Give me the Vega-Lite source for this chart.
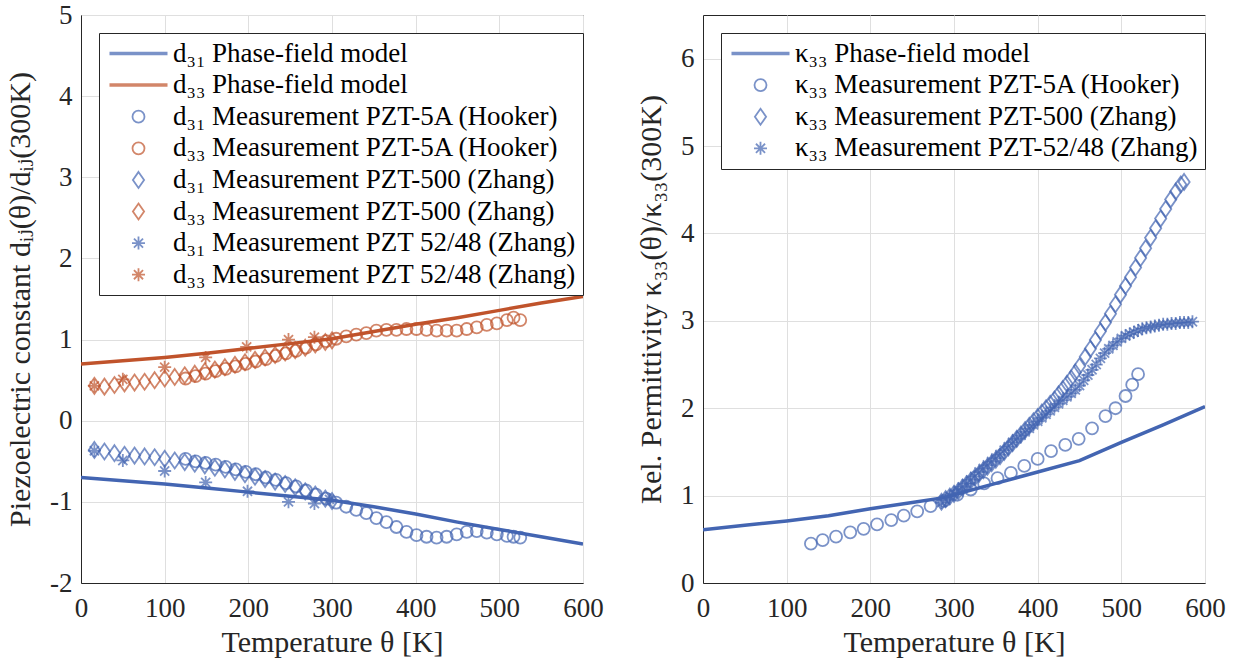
{
  "$schema": "https://vega.github.io/schema/vega-lite/v6.json",
  "background": "white",
  "padding": {"left": 5, "top": 0, "right": 5, "bottom": 2},
  "spacing": 32,
  "resolve": {"scale": {"color": "independent", "shape": "independent", "size": "independent", "strokeWidth": "independent"}, "legend": {"color": "independent", "shape": "independent", "size": "independent", "strokeWidth": "independent"}},
  "config": {
    "font": "Liberation Serif, DejaVu Serif, serif",
    "view": {"stroke": "#262626", "strokeWidth": 1},
    "axis": {"labelFont": "Liberation Serif, DejaVu Serif, serif", "titleFont": "Liberation Serif, DejaVu Serif, serif", "labelFontSize": 27, "titleFontSize": 30, "labelColor": "#262626", "titleColor": "#262626", "titleFontWeight": "normal", "domainColor": "#262626", "gridColor": "#dfdfdf", "ticks": false, "labelPadding": 9, "titlePadding": 14, "labelFlush": false, "labelOverlap": false},
    "axisX": {"labelPadding": 12, "titlePadding": 6},
    "legend": {"labelFont": "Liberation Serif, DejaVu Serif, serif", "labelFontSize": 27, "labelColor": "#000000", "strokeColor": "#262626", "fillColor": "white", "padding": 7, "rowPadding": 3.6, "labelOffset": 21, "symbolOffset": 19, "orient": "top-left", "offset": 18, "labelLimit": 700, "cornerRadius": 0}
  },
  "datasets": {
    "leftLines": [
      {"s": "d₃₁ Phase-field model", "T": 0, "v": -0.70}, {"s": "d₃₁ Phase-field model", "T": 50, "v": -0.74}, {"s": "d₃₁ Phase-field model", "T": 100, "v": -0.78}, {"s": "d₃₁ Phase-field model", "T": 150, "v": -0.83}, {"s": "d₃₁ Phase-field model", "T": 200, "v": -0.88}, {"s": "d₃₁ Phase-field model", "T": 250, "v": -0.93}, {"s": "d₃₁ Phase-field model", "T": 300, "v": -0.98}, {"s": "d₃₁ Phase-field model", "T": 350, "v": -1.06}, {"s": "d₃₁ Phase-field model", "T": 400, "v": -1.15}, {"s": "d₃₁ Phase-field model", "T": 450, "v": -1.25}, {"s": "d₃₁ Phase-field model", "T": 500, "v": -1.34}, {"s": "d₃₁ Phase-field model", "T": 550, "v": -1.43}, {"s": "d₃₁ Phase-field model", "T": 600, "v": -1.52},
      {"s": "d₃₃ Phase-field model", "T": 0, "v": 0.70}, {"s": "d₃₃ Phase-field model", "T": 50, "v": 0.74}, {"s": "d₃₃ Phase-field model", "T": 100, "v": 0.78}, {"s": "d₃₃ Phase-field model", "T": 150, "v": 0.83}, {"s": "d₃₃ Phase-field model", "T": 200, "v": 0.89}, {"s": "d₃₃ Phase-field model", "T": 250, "v": 0.95}, {"s": "d₃₃ Phase-field model", "T": 300, "v": 1.01}, {"s": "d₃₃ Phase-field model", "T": 350, "v": 1.10}, {"s": "d₃₃ Phase-field model", "T": 400, "v": 1.19}, {"s": "d₃₃ Phase-field model", "T": 450, "v": 1.27}, {"s": "d₃₃ Phase-field model", "T": 500, "v": 1.36}, {"s": "d₃₃ Phase-field model", "T": 550, "v": 1.45}, {"s": "d₃₃ Phase-field model", "T": 600, "v": 1.53}
    ],
    "leftPts": [
      {"s": "d₃₁ Measurement PZT-5A (Hooker)", "T": 125, "v": -0.47}, {"s": "d₃₁ Measurement PZT-5A (Hooker)", "T": 137, "v": -0.50}, {"s": "d₃₁ Measurement PZT-5A (Hooker)", "T": 149, "v": -0.52}, {"s": "d₃₁ Measurement PZT-5A (Hooker)", "T": 161, "v": -0.54}, {"s": "d₃₁ Measurement PZT-5A (Hooker)", "T": 173, "v": -0.57}, {"s": "d₃₁ Measurement PZT-5A (Hooker)", "T": 185, "v": -0.60}, {"s": "d₃₁ Measurement PZT-5A (Hooker)", "T": 197, "v": -0.63}, {"s": "d₃₁ Measurement PZT-5A (Hooker)", "T": 209, "v": -0.66}, {"s": "d₃₁ Measurement PZT-5A (Hooker)", "T": 221, "v": -0.70}, {"s": "d₃₁ Measurement PZT-5A (Hooker)", "T": 233, "v": -0.73}, {"s": "d₃₁ Measurement PZT-5A (Hooker)", "T": 245, "v": -0.77}, {"s": "d₃₁ Measurement PZT-5A (Hooker)", "T": 257, "v": -0.81}, {"s": "d₃₁ Measurement PZT-5A (Hooker)", "T": 269, "v": -0.86}, {"s": "d₃₁ Measurement PZT-5A (Hooker)", "T": 281, "v": -0.91}, {"s": "d₃₁ Measurement PZT-5A (Hooker)", "T": 293, "v": -0.96}, {"s": "d₃₁ Measurement PZT-5A (Hooker)", "T": 305, "v": -1.01}, {"s": "d₃₁ Measurement PZT-5A (Hooker)", "T": 317, "v": -1.06}, {"s": "d₃₁ Measurement PZT-5A (Hooker)", "T": 329, "v": -1.10}, {"s": "d₃₁ Measurement PZT-5A (Hooker)", "T": 341, "v": -1.14}, {"s": "d₃₁ Measurement PZT-5A (Hooker)", "T": 353, "v": -1.20}, {"s": "d₃₁ Measurement PZT-5A (Hooker)", "T": 365, "v": -1.25}, {"s": "d₃₁ Measurement PZT-5A (Hooker)", "T": 377, "v": -1.31}, {"s": "d₃₁ Measurement PZT-5A (Hooker)", "T": 389, "v": -1.37}, {"s": "d₃₁ Measurement PZT-5A (Hooker)", "T": 401, "v": -1.41}, {"s": "d₃₁ Measurement PZT-5A (Hooker)", "T": 413, "v": -1.43}, {"s": "d₃₁ Measurement PZT-5A (Hooker)", "T": 425, "v": -1.44}, {"s": "d₃₁ Measurement PZT-5A (Hooker)", "T": 437, "v": -1.43}, {"s": "d₃₁ Measurement PZT-5A (Hooker)", "T": 449, "v": -1.40}, {"s": "d₃₁ Measurement PZT-5A (Hooker)", "T": 461, "v": -1.37}, {"s": "d₃₁ Measurement PZT-5A (Hooker)", "T": 473, "v": -1.36}, {"s": "d₃₁ Measurement PZT-5A (Hooker)", "T": 485, "v": -1.38}, {"s": "d₃₁ Measurement PZT-5A (Hooker)", "T": 497, "v": -1.40}, {"s": "d₃₁ Measurement PZT-5A (Hooker)", "T": 509, "v": -1.42}, {"s": "d₃₁ Measurement PZT-5A (Hooker)", "T": 517, "v": -1.43}, {"s": "d₃₁ Measurement PZT-5A (Hooker)", "T": 525, "v": -1.44},
      {"s": "d₃₃ Measurement PZT-5A (Hooker)", "T": 125, "v": 0.52}, {"s": "d₃₃ Measurement PZT-5A (Hooker)", "T": 137, "v": 0.55}, {"s": "d₃₃ Measurement PZT-5A (Hooker)", "T": 149, "v": 0.58}, {"s": "d₃₃ Measurement PZT-5A (Hooker)", "T": 161, "v": 0.61}, {"s": "d₃₃ Measurement PZT-5A (Hooker)", "T": 173, "v": 0.64}, {"s": "d₃₃ Measurement PZT-5A (Hooker)", "T": 185, "v": 0.67}, {"s": "d₃₃ Measurement PZT-5A (Hooker)", "T": 197, "v": 0.70}, {"s": "d₃₃ Measurement PZT-5A (Hooker)", "T": 209, "v": 0.73}, {"s": "d₃₃ Measurement PZT-5A (Hooker)", "T": 221, "v": 0.76}, {"s": "d₃₃ Measurement PZT-5A (Hooker)", "T": 233, "v": 0.80}, {"s": "d₃₃ Measurement PZT-5A (Hooker)", "T": 245, "v": 0.83}, {"s": "d₃₃ Measurement PZT-5A (Hooker)", "T": 257, "v": 0.86}, {"s": "d₃₃ Measurement PZT-5A (Hooker)", "T": 269, "v": 0.90}, {"s": "d₃₃ Measurement PZT-5A (Hooker)", "T": 281, "v": 0.94}, {"s": "d₃₃ Measurement PZT-5A (Hooker)", "T": 293, "v": 0.98}, {"s": "d₃₃ Measurement PZT-5A (Hooker)", "T": 305, "v": 1.01}, {"s": "d₃₃ Measurement PZT-5A (Hooker)", "T": 317, "v": 1.04}, {"s": "d₃₃ Measurement PZT-5A (Hooker)", "T": 329, "v": 1.06}, {"s": "d₃₃ Measurement PZT-5A (Hooker)", "T": 341, "v": 1.08}, {"s": "d₃₃ Measurement PZT-5A (Hooker)", "T": 353, "v": 1.11}, {"s": "d₃₃ Measurement PZT-5A (Hooker)", "T": 365, "v": 1.12}, {"s": "d₃₃ Measurement PZT-5A (Hooker)", "T": 377, "v": 1.12}, {"s": "d₃₃ Measurement PZT-5A (Hooker)", "T": 389, "v": 1.13}, {"s": "d₃₃ Measurement PZT-5A (Hooker)", "T": 401, "v": 1.13}, {"s": "d₃₃ Measurement PZT-5A (Hooker)", "T": 413, "v": 1.12}, {"s": "d₃₃ Measurement PZT-5A (Hooker)", "T": 425, "v": 1.11}, {"s": "d₃₃ Measurement PZT-5A (Hooker)", "T": 437, "v": 1.11}, {"s": "d₃₃ Measurement PZT-5A (Hooker)", "T": 449, "v": 1.11}, {"s": "d₃₃ Measurement PZT-5A (Hooker)", "T": 461, "v": 1.13}, {"s": "d₃₃ Measurement PZT-5A (Hooker)", "T": 473, "v": 1.15}, {"s": "d₃₃ Measurement PZT-5A (Hooker)", "T": 485, "v": 1.18}, {"s": "d₃₃ Measurement PZT-5A (Hooker)", "T": 497, "v": 1.20}, {"s": "d₃₃ Measurement PZT-5A (Hooker)", "T": 509, "v": 1.24}, {"s": "d₃₃ Measurement PZT-5A (Hooker)", "T": 517, "v": 1.27}, {"s": "d₃₃ Measurement PZT-5A (Hooker)", "T": 525, "v": 1.24},
      {"s": "d₃₁ Measurement PZT-500 (Zhang)", "T": 16, "v": -0.36}, {"s": "d₃₁ Measurement PZT-500 (Zhang)", "T": 28, "v": -0.38}, {"s": "d₃₁ Measurement PZT-500 (Zhang)", "T": 40, "v": -0.40}, {"s": "d₃₁ Measurement PZT-500 (Zhang)", "T": 52, "v": -0.42}, {"s": "d₃₁ Measurement PZT-500 (Zhang)", "T": 64, "v": -0.43}, {"s": "d₃₁ Measurement PZT-500 (Zhang)", "T": 76, "v": -0.44}, {"s": "d₃₁ Measurement PZT-500 (Zhang)", "T": 88, "v": -0.45}, {"s": "d₃₁ Measurement PZT-500 (Zhang)", "T": 100, "v": -0.47}, {"s": "d₃₁ Measurement PZT-500 (Zhang)", "T": 112, "v": -0.49}, {"s": "d₃₁ Measurement PZT-500 (Zhang)", "T": 124, "v": -0.51}, {"s": "d₃₁ Measurement PZT-500 (Zhang)", "T": 136, "v": -0.53}, {"s": "d₃₁ Measurement PZT-500 (Zhang)", "T": 148, "v": -0.55}, {"s": "d₃₁ Measurement PZT-500 (Zhang)", "T": 160, "v": -0.58}, {"s": "d₃₁ Measurement PZT-500 (Zhang)", "T": 172, "v": -0.60}, {"s": "d₃₁ Measurement PZT-500 (Zhang)", "T": 184, "v": -0.63}, {"s": "d₃₁ Measurement PZT-500 (Zhang)", "T": 196, "v": -0.66}, {"s": "d₃₁ Measurement PZT-500 (Zhang)", "T": 208, "v": -0.69}, {"s": "d₃₁ Measurement PZT-500 (Zhang)", "T": 220, "v": -0.72}, {"s": "d₃₁ Measurement PZT-500 (Zhang)", "T": 232, "v": -0.75}, {"s": "d₃₁ Measurement PZT-500 (Zhang)", "T": 244, "v": -0.78}, {"s": "d₃₁ Measurement PZT-500 (Zhang)", "T": 256, "v": -0.82}, {"s": "d₃₁ Measurement PZT-500 (Zhang)", "T": 268, "v": -0.87}, {"s": "d₃₁ Measurement PZT-500 (Zhang)", "T": 280, "v": -0.91}, {"s": "d₃₁ Measurement PZT-500 (Zhang)", "T": 292, "v": -0.96}, {"s": "d₃₁ Measurement PZT-500 (Zhang)", "T": 300, "v": -0.99},
      {"s": "d₃₃ Measurement PZT-500 (Zhang)", "T": 16, "v": 0.43}, {"s": "d₃₃ Measurement PZT-500 (Zhang)", "T": 28, "v": 0.42}, {"s": "d₃₃ Measurement PZT-500 (Zhang)", "T": 40, "v": 0.44}, {"s": "d₃₃ Measurement PZT-500 (Zhang)", "T": 52, "v": 0.46}, {"s": "d₃₃ Measurement PZT-500 (Zhang)", "T": 64, "v": 0.47}, {"s": "d₃₃ Measurement PZT-500 (Zhang)", "T": 76, "v": 0.48}, {"s": "d₃₃ Measurement PZT-500 (Zhang)", "T": 88, "v": 0.50}, {"s": "d₃₃ Measurement PZT-500 (Zhang)", "T": 100, "v": 0.52}, {"s": "d₃₃ Measurement PZT-500 (Zhang)", "T": 112, "v": 0.54}, {"s": "d₃₃ Measurement PZT-500 (Zhang)", "T": 124, "v": 0.56}, {"s": "d₃₃ Measurement PZT-500 (Zhang)", "T": 136, "v": 0.58}, {"s": "d₃₃ Measurement PZT-500 (Zhang)", "T": 148, "v": 0.61}, {"s": "d₃₃ Measurement PZT-500 (Zhang)", "T": 160, "v": 0.63}, {"s": "d₃₃ Measurement PZT-500 (Zhang)", "T": 172, "v": 0.66}, {"s": "d₃₃ Measurement PZT-500 (Zhang)", "T": 184, "v": 0.69}, {"s": "d₃₃ Measurement PZT-500 (Zhang)", "T": 196, "v": 0.72}, {"s": "d₃₃ Measurement PZT-500 (Zhang)", "T": 208, "v": 0.75}, {"s": "d₃₃ Measurement PZT-500 (Zhang)", "T": 220, "v": 0.78}, {"s": "d₃₃ Measurement PZT-500 (Zhang)", "T": 232, "v": 0.81}, {"s": "d₃₃ Measurement PZT-500 (Zhang)", "T": 244, "v": 0.84}, {"s": "d₃₃ Measurement PZT-500 (Zhang)", "T": 256, "v": 0.87}, {"s": "d₃₃ Measurement PZT-500 (Zhang)", "T": 268, "v": 0.90}, {"s": "d₃₃ Measurement PZT-500 (Zhang)", "T": 280, "v": 0.94}, {"s": "d₃₃ Measurement PZT-500 (Zhang)", "T": 292, "v": 0.97}, {"s": "d₃₃ Measurement PZT-500 (Zhang)", "T": 300, "v": 0.99},
      {"s": "d₃₁ Measurement PZT 52/48 (Zhang)", "T": 16, "v": -0.37}, {"s": "d₃₁ Measurement PZT 52/48 (Zhang)", "T": 50, "v": -0.49}, {"s": "d₃₁ Measurement PZT 52/48 (Zhang)", "T": 100, "v": -0.62}, {"s": "d₃₁ Measurement PZT 52/48 (Zhang)", "T": 149, "v": -0.76}, {"s": "d₃₁ Measurement PZT 52/48 (Zhang)", "T": 199, "v": -0.87}, {"s": "d₃₁ Measurement PZT 52/48 (Zhang)", "T": 248, "v": -1.00}, {"s": "d₃₁ Measurement PZT 52/48 (Zhang)", "T": 279, "v": -1.02}, {"s": "d₃₁ Measurement PZT 52/48 (Zhang)", "T": 297, "v": -0.97},
      {"s": "d₃₃ Measurement PZT 52/48 (Zhang)", "T": 16, "v": 0.43}, {"s": "d₃₃ Measurement PZT 52/48 (Zhang)", "T": 50, "v": 0.51}, {"s": "d₃₃ Measurement PZT 52/48 (Zhang)", "T": 100, "v": 0.66}, {"s": "d₃₃ Measurement PZT 52/48 (Zhang)", "T": 149, "v": 0.78}, {"s": "d₃₃ Measurement PZT 52/48 (Zhang)", "T": 198, "v": 0.91}, {"s": "d₃₃ Measurement PZT 52/48 (Zhang)", "T": 248, "v": 1.00}, {"s": "d₃₃ Measurement PZT 52/48 (Zhang)", "T": 279, "v": 1.03}
    ],
    "rightLines": [
      {"s": "κ₃₃ Phase-field model", "T": 0, "v": 0.61}, {"s": "κ₃₃ Phase-field model", "T": 50, "v": 0.66}, {"s": "κ₃₃ Phase-field model", "T": 100, "v": 0.71}, {"s": "κ₃₃ Phase-field model", "T": 150, "v": 0.77}, {"s": "κ₃₃ Phase-field model", "T": 200, "v": 0.85}, {"s": "κ₃₃ Phase-field model", "T": 250, "v": 0.92}, {"s": "κ₃₃ Phase-field model", "T": 290, "v": 0.98}, {"s": "κ₃₃ Phase-field model", "T": 300, "v": 1.01}, {"s": "κ₃₃ Phase-field model", "T": 350, "v": 1.14}, {"s": "κ₃₃ Phase-field model", "T": 400, "v": 1.27}, {"s": "κ₃₃ Phase-field model", "T": 450, "v": 1.40}, {"s": "κ₃₃ Phase-field model", "T": 500, "v": 1.61}, {"s": "κ₃₃ Phase-field model", "T": 550, "v": 1.81}, {"s": "κ₃₃ Phase-field model", "T": 600, "v": 2.02}
    ],
    "rightPts": [
      {"s": "κ₃₃ Measurement PZT-5A (Hooker)", "T": 129, "v": 0.45}, {"s": "κ₃₃ Measurement PZT-5A (Hooker)", "T": 143, "v": 0.49}, {"s": "κ₃₃ Measurement PZT-5A (Hooker)", "T": 159, "v": 0.53}, {"s": "κ₃₃ Measurement PZT-5A (Hooker)", "T": 176, "v": 0.58}, {"s": "κ₃₃ Measurement PZT-5A (Hooker)", "T": 192, "v": 0.62}, {"s": "κ₃₃ Measurement PZT-5A (Hooker)", "T": 208, "v": 0.67}, {"s": "κ₃₃ Measurement PZT-5A (Hooker)", "T": 225, "v": 0.72}, {"s": "κ₃₃ Measurement PZT-5A (Hooker)", "T": 240, "v": 0.77}, {"s": "κ₃₃ Measurement PZT-5A (Hooker)", "T": 256, "v": 0.82}, {"s": "κ₃₃ Measurement PZT-5A (Hooker)", "T": 272, "v": 0.88}, {"s": "κ₃₃ Measurement PZT-5A (Hooker)", "T": 288, "v": 0.94}, {"s": "κ₃₃ Measurement PZT-5A (Hooker)", "T": 304, "v": 1.01}, {"s": "κ₃₃ Measurement PZT-5A (Hooker)", "T": 320, "v": 1.07}, {"s": "κ₃₃ Measurement PZT-5A (Hooker)", "T": 336, "v": 1.14}, {"s": "κ₃₃ Measurement PZT-5A (Hooker)", "T": 352, "v": 1.20}, {"s": "κ₃₃ Measurement PZT-5A (Hooker)", "T": 368, "v": 1.26}, {"s": "κ₃₃ Measurement PZT-5A (Hooker)", "T": 384, "v": 1.34}, {"s": "κ₃₃ Measurement PZT-5A (Hooker)", "T": 400, "v": 1.42}, {"s": "κ₃₃ Measurement PZT-5A (Hooker)", "T": 416, "v": 1.51}, {"s": "κ₃₃ Measurement PZT-5A (Hooker)", "T": 433, "v": 1.58}, {"s": "κ₃₃ Measurement PZT-5A (Hooker)", "T": 449, "v": 1.65}, {"s": "κ₃₃ Measurement PZT-5A (Hooker)", "T": 465, "v": 1.77}, {"s": "κ₃₃ Measurement PZT-5A (Hooker)", "T": 481, "v": 1.91}, {"s": "κ₃₃ Measurement PZT-5A (Hooker)", "T": 493, "v": 2.00}, {"s": "κ₃₃ Measurement PZT-5A (Hooker)", "T": 505, "v": 2.14}, {"s": "κ₃₃ Measurement PZT-5A (Hooker)", "T": 513, "v": 2.27}, {"s": "κ₃₃ Measurement PZT-5A (Hooker)", "T": 520, "v": 2.39},
      {"s": "κ₃₃ Measurement PZT-500 (Zhang)", "T": 285, "v": 0.93}, {"s": "κ₃₃ Measurement PZT-500 (Zhang)", "T": 290, "v": 0.96}, {"s": "κ₃₃ Measurement PZT-500 (Zhang)", "T": 295, "v": 0.99}, {"s": "κ₃₃ Measurement PZT-500 (Zhang)", "T": 300, "v": 1.02}, {"s": "κ₃₃ Measurement PZT-500 (Zhang)", "T": 305, "v": 1.05}, {"s": "κ₃₃ Measurement PZT-500 (Zhang)", "T": 310, "v": 1.09}, {"s": "κ₃₃ Measurement PZT-500 (Zhang)", "T": 315, "v": 1.13}, {"s": "κ₃₃ Measurement PZT-500 (Zhang)", "T": 320, "v": 1.17}, {"s": "κ₃₃ Measurement PZT-500 (Zhang)", "T": 325, "v": 1.21}, {"s": "κ₃₃ Measurement PZT-500 (Zhang)", "T": 330, "v": 1.25}, {"s": "κ₃₃ Measurement PZT-500 (Zhang)", "T": 335, "v": 1.29}, {"s": "κ₃₃ Measurement PZT-500 (Zhang)", "T": 340, "v": 1.33}, {"s": "κ₃₃ Measurement PZT-500 (Zhang)", "T": 345, "v": 1.37}, {"s": "κ₃₃ Measurement PZT-500 (Zhang)", "T": 350, "v": 1.41}, {"s": "κ₃₃ Measurement PZT-500 (Zhang)", "T": 355, "v": 1.45}, {"s": "κ₃₃ Measurement PZT-500 (Zhang)", "T": 360, "v": 1.50}, {"s": "κ₃₃ Measurement PZT-500 (Zhang)", "T": 365, "v": 1.55}, {"s": "κ₃₃ Measurement PZT-500 (Zhang)", "T": 370, "v": 1.60}, {"s": "κ₃₃ Measurement PZT-500 (Zhang)", "T": 375, "v": 1.65}, {"s": "κ₃₃ Measurement PZT-500 (Zhang)", "T": 380, "v": 1.70}, {"s": "κ₃₃ Measurement PZT-500 (Zhang)", "T": 385, "v": 1.75}, {"s": "κ₃₃ Measurement PZT-500 (Zhang)", "T": 390, "v": 1.80}, {"s": "κ₃₃ Measurement PZT-500 (Zhang)", "T": 395, "v": 1.85}, {"s": "κ₃₃ Measurement PZT-500 (Zhang)", "T": 400, "v": 1.90}, {"s": "κ₃₃ Measurement PZT-500 (Zhang)", "T": 405, "v": 1.95}, {"s": "κ₃₃ Measurement PZT-500 (Zhang)", "T": 410, "v": 2.00}, {"s": "κ₃₃ Measurement PZT-500 (Zhang)", "T": 415, "v": 2.05}, {"s": "κ₃₃ Measurement PZT-500 (Zhang)", "T": 420, "v": 2.10}, {"s": "κ₃₃ Measurement PZT-500 (Zhang)", "T": 425, "v": 2.16}, {"s": "κ₃₃ Measurement PZT-500 (Zhang)", "T": 430, "v": 2.22}, {"s": "κ₃₃ Measurement PZT-500 (Zhang)", "T": 435, "v": 2.28}, {"s": "κ₃₃ Measurement PZT-500 (Zhang)", "T": 440, "v": 2.34}, {"s": "κ₃₃ Measurement PZT-500 (Zhang)", "T": 445, "v": 2.41}, {"s": "κ₃₃ Measurement PZT-500 (Zhang)", "T": 450, "v": 2.48}, {"s": "κ₃₃ Measurement PZT-500 (Zhang)", "T": 457, "v": 2.59}, {"s": "κ₃₃ Measurement PZT-500 (Zhang)", "T": 463, "v": 2.68}, {"s": "κ₃₃ Measurement PZT-500 (Zhang)", "T": 469, "v": 2.78}, {"s": "κ₃₃ Measurement PZT-500 (Zhang)", "T": 475, "v": 2.88}, {"s": "κ₃₃ Measurement PZT-500 (Zhang)", "T": 481, "v": 2.98}, {"s": "κ₃₃ Measurement PZT-500 (Zhang)", "T": 487, "v": 3.08}, {"s": "κ₃₃ Measurement PZT-500 (Zhang)", "T": 493, "v": 3.19}, {"s": "κ₃₃ Measurement PZT-500 (Zhang)", "T": 499, "v": 3.30}, {"s": "κ₃₃ Measurement PZT-500 (Zhang)", "T": 505, "v": 3.40}, {"s": "κ₃₃ Measurement PZT-500 (Zhang)", "T": 511, "v": 3.50}, {"s": "κ₃₃ Measurement PZT-500 (Zhang)", "T": 517, "v": 3.61}, {"s": "κ₃₃ Measurement PZT-500 (Zhang)", "T": 523, "v": 3.72}, {"s": "κ₃₃ Measurement PZT-500 (Zhang)", "T": 529, "v": 3.83}, {"s": "κ₃₃ Measurement PZT-500 (Zhang)", "T": 535, "v": 3.95}, {"s": "κ₃₃ Measurement PZT-500 (Zhang)", "T": 541, "v": 4.06}, {"s": "κ₃₃ Measurement PZT-500 (Zhang)", "T": 547, "v": 4.17}, {"s": "κ₃₃ Measurement PZT-500 (Zhang)", "T": 553, "v": 4.28}, {"s": "κ₃₃ Measurement PZT-500 (Zhang)", "T": 559, "v": 4.39}, {"s": "κ₃₃ Measurement PZT-500 (Zhang)", "T": 565, "v": 4.48}, {"s": "κ₃₃ Measurement PZT-500 (Zhang)", "T": 571, "v": 4.56}, {"s": "κ₃₃ Measurement PZT-500 (Zhang)", "T": 575, "v": 4.59},
      {"s": "κ₃₃ Measurement PZT-52/48 (Zhang)", "T": 285, "v": 0.92}, {"s": "κ₃₃ Measurement PZT-52/48 (Zhang)", "T": 290, "v": 0.95}, {"s": "κ₃₃ Measurement PZT-52/48 (Zhang)", "T": 295, "v": 0.99}, {"s": "κ₃₃ Measurement PZT-52/48 (Zhang)", "T": 300, "v": 1.02}, {"s": "κ₃₃ Measurement PZT-52/48 (Zhang)", "T": 305, "v": 1.06}, {"s": "κ₃₃ Measurement PZT-52/48 (Zhang)", "T": 310, "v": 1.10}, {"s": "κ₃₃ Measurement PZT-52/48 (Zhang)", "T": 315, "v": 1.14}, {"s": "κ₃₃ Measurement PZT-52/48 (Zhang)", "T": 320, "v": 1.18}, {"s": "κ₃₃ Measurement PZT-52/48 (Zhang)", "T": 325, "v": 1.22}, {"s": "κ₃₃ Measurement PZT-52/48 (Zhang)", "T": 330, "v": 1.27}, {"s": "κ₃₃ Measurement PZT-52/48 (Zhang)", "T": 335, "v": 1.31}, {"s": "κ₃₃ Measurement PZT-52/48 (Zhang)", "T": 340, "v": 1.35}, {"s": "κ₃₃ Measurement PZT-52/48 (Zhang)", "T": 345, "v": 1.39}, {"s": "κ₃₃ Measurement PZT-52/48 (Zhang)", "T": 350, "v": 1.43}, {"s": "κ₃₃ Measurement PZT-52/48 (Zhang)", "T": 355, "v": 1.47}, {"s": "κ₃₃ Measurement PZT-52/48 (Zhang)", "T": 360, "v": 1.52}, {"s": "κ₃₃ Measurement PZT-52/48 (Zhang)", "T": 365, "v": 1.56}, {"s": "κ₃₃ Measurement PZT-52/48 (Zhang)", "T": 370, "v": 1.61}, {"s": "κ₃₃ Measurement PZT-52/48 (Zhang)", "T": 375, "v": 1.65}, {"s": "κ₃₃ Measurement PZT-52/48 (Zhang)", "T": 380, "v": 1.69}, {"s": "κ₃₃ Measurement PZT-52/48 (Zhang)", "T": 385, "v": 1.73}, {"s": "κ₃₃ Measurement PZT-52/48 (Zhang)", "T": 390, "v": 1.77}, {"s": "κ₃₃ Measurement PZT-52/48 (Zhang)", "T": 395, "v": 1.81}, {"s": "κ₃₃ Measurement PZT-52/48 (Zhang)", "T": 400, "v": 1.85}, {"s": "κ₃₃ Measurement PZT-52/48 (Zhang)", "T": 405, "v": 1.89}, {"s": "κ₃₃ Measurement PZT-52/48 (Zhang)", "T": 410, "v": 1.93}, {"s": "κ₃₃ Measurement PZT-52/48 (Zhang)", "T": 415, "v": 1.97}, {"s": "κ₃₃ Measurement PZT-52/48 (Zhang)", "T": 420, "v": 2.01}, {"s": "κ₃₃ Measurement PZT-52/48 (Zhang)", "T": 425, "v": 2.05}, {"s": "κ₃₃ Measurement PZT-52/48 (Zhang)", "T": 430, "v": 2.09}, {"s": "κ₃₃ Measurement PZT-52/48 (Zhang)", "T": 435, "v": 2.13}, {"s": "κ₃₃ Measurement PZT-52/48 (Zhang)", "T": 440, "v": 2.17}, {"s": "κ₃₃ Measurement PZT-52/48 (Zhang)", "T": 445, "v": 2.21}, {"s": "κ₃₃ Measurement PZT-52/48 (Zhang)", "T": 450, "v": 2.26}, {"s": "κ₃₃ Measurement PZT-52/48 (Zhang)", "T": 455, "v": 2.32}, {"s": "κ₃₃ Measurement PZT-52/48 (Zhang)", "T": 460, "v": 2.38}, {"s": "κ₃₃ Measurement PZT-52/48 (Zhang)", "T": 465, "v": 2.44}, {"s": "κ₃₃ Measurement PZT-52/48 (Zhang)", "T": 470, "v": 2.50}, {"s": "κ₃₃ Measurement PZT-52/48 (Zhang)", "T": 475, "v": 2.57}, {"s": "κ₃₃ Measurement PZT-52/48 (Zhang)", "T": 480, "v": 2.63}, {"s": "κ₃₃ Measurement PZT-52/48 (Zhang)", "T": 485, "v": 2.68}, {"s": "κ₃₃ Measurement PZT-52/48 (Zhang)", "T": 490, "v": 2.72}, {"s": "κ₃₃ Measurement PZT-52/48 (Zhang)", "T": 495, "v": 2.76}, {"s": "κ₃₃ Measurement PZT-52/48 (Zhang)", "T": 500, "v": 2.80}, {"s": "κ₃₃ Measurement PZT-52/48 (Zhang)", "T": 505, "v": 2.83}, {"s": "κ₃₃ Measurement PZT-52/48 (Zhang)", "T": 510, "v": 2.85}, {"s": "κ₃₃ Measurement PZT-52/48 (Zhang)", "T": 515, "v": 2.87}, {"s": "κ₃₃ Measurement PZT-52/48 (Zhang)", "T": 520, "v": 2.89}, {"s": "κ₃₃ Measurement PZT-52/48 (Zhang)", "T": 525, "v": 2.91}, {"s": "κ₃₃ Measurement PZT-52/48 (Zhang)", "T": 530, "v": 2.92}, {"s": "κ₃₃ Measurement PZT-52/48 (Zhang)", "T": 535, "v": 2.93}, {"s": "κ₃₃ Measurement PZT-52/48 (Zhang)", "T": 540, "v": 2.94}, {"s": "κ₃₃ Measurement PZT-52/48 (Zhang)", "T": 545, "v": 2.95}, {"s": "κ₃₃ Measurement PZT-52/48 (Zhang)", "T": 550, "v": 2.96}, {"s": "κ₃₃ Measurement PZT-52/48 (Zhang)", "T": 555, "v": 2.96}, {"s": "κ₃₃ Measurement PZT-52/48 (Zhang)", "T": 560, "v": 2.97}, {"s": "κ₃₃ Measurement PZT-52/48 (Zhang)", "T": 565, "v": 2.97}, {"s": "κ₃₃ Measurement PZT-52/48 (Zhang)", "T": 570, "v": 2.98}, {"s": "κ₃₃ Measurement PZT-52/48 (Zhang)", "T": 575, "v": 2.98}, {"s": "κ₃₃ Measurement PZT-52/48 (Zhang)", "T": 580, "v": 2.98}, {"s": "κ₃₃ Measurement PZT-52/48 (Zhang)", "T": 585, "v": 2.99}
    ]
  },
  "hconcat": [
    {
      "width": 502,
      "height": 568,
      "layer": [
        {
          "data": {"name": "leftLines"},
          "mark": {"type": "line", "strokeWidth": 3.5, "clip": true},
          "encoding": {
            "x": {"field": "T", "type": "quantitative", "scale": {"domain": [0, 600], "nice": false}, "axis": {"title": "Temperature θ [K]", "values": [0, 100, 200, 300, 400, 500, 600]}},
            "y": {"field": "v", "type": "quantitative", "scale": {"domain": [-2, 5], "nice": false, "zero": false}, "axis": {"title": "Piezoelectric constant dᵢⱼ(θ)/dᵢⱼ(300K)", "values": [-2, -1, 0, 1, 2, 3, 4, 5], "labelExpr": "'' + datum.value"}},
            "color": {"field": "s", "type": "nominal", "scale": {"domain": ["d₃₁ Phase-field model", "d₃₃ Phase-field model", "d₃₁ Measurement PZT-5A (Hooker)", "d₃₃ Measurement PZT-5A (Hooker)", "d₃₁ Measurement PZT-500 (Zhang)", "d₃₃ Measurement PZT-500 (Zhang)", "d₃₁ Measurement PZT 52/48 (Zhang)", "d₃₃ Measurement PZT 52/48 (Zhang)"], "range": ["#4365b2", "#c0532b", "#4365b2", "#c0532b", "#4365b2", "#c0532b", "#4365b2", "#c0532b"]}, "legend": {"title": null}}
          }
        },
        {
          "data": {"name": "leftPts"},
          "mark": {"type": "point", "filled": false, "clip": true},
          "encoding": {
            "x": {"field": "T", "type": "quantitative"},
            "y": {"field": "v", "type": "quantitative"},
            "color": {"field": "s", "type": "nominal", "legend": {"title": null}},
            "shape": {"field": "s", "type": "nominal", "scale": {"domain": ["d₃₁ Phase-field model", "d₃₃ Phase-field model", "d₃₁ Measurement PZT-5A (Hooker)", "d₃₃ Measurement PZT-5A (Hooker)", "d₃₁ Measurement PZT-500 (Zhang)", "d₃₃ Measurement PZT-500 (Zhang)", "d₃₁ Measurement PZT 52/48 (Zhang)", "d₃₃ Measurement PZT 52/48 (Zhang)"], "range": ["M-3,0L3,0", "M-3,0L3,0", "circle", "circle", "M0,-1L0.7,0L0,1L-0.7,0Z", "M0,-1L0.7,0L0,1L-0.7,0Z", "M-1,0L1,0M0,-1L0,1M-0.7,-0.7L0.7,0.7M-0.7,0.7L0.7,-0.7", "M-1,0L1,0M0,-1L0,1M-0.7,-0.7L0.7,0.7M-0.7,0.7L0.7,-0.7"]}, "legend": {"title": null}},
            "size": {"field": "s", "type": "nominal", "scale": {"type": "ordinal", "domain": ["d₃₁ Phase-field model", "d₃₃ Phase-field model", "d₃₁ Measurement PZT-5A (Hooker)", "d₃₃ Measurement PZT-5A (Hooker)", "d₃₁ Measurement PZT-500 (Zhang)", "d₃₃ Measurement PZT-500 (Zhang)", "d₃₁ Measurement PZT 52/48 (Zhang)", "d₃₃ Measurement PZT 52/48 (Zhang)"], "range": [374, 374, 144, 144, 256, 256, 169, 169]}, "legend": {"title": null}},
            "strokeWidth": {"field": "s", "type": "nominal", "scale": {"type": "ordinal", "domain": ["d₃₁ Phase-field model", "d₃₃ Phase-field model", "d₃₁ Measurement PZT-5A (Hooker)", "d₃₃ Measurement PZT-5A (Hooker)", "d₃₁ Measurement PZT-500 (Zhang)", "d₃₃ Measurement PZT-500 (Zhang)", "d₃₁ Measurement PZT 52/48 (Zhang)", "d₃₃ Measurement PZT 52/48 (Zhang)"], "range": [3.5, 3.5, 1.8, 1.8, 1.8, 1.8, 1.8, 1.8]}, "legend": {"title": null}}
          }
        }
      ]
    },
    {
      "width": 502,
      "height": 568,
      "layer": [
        {
          "data": {"name": "rightLines"},
          "mark": {"type": "line", "strokeWidth": 3.5, "clip": true},
          "encoding": {
            "x": {"field": "T", "type": "quantitative", "scale": {"domain": [0, 600], "nice": false}, "axis": {"title": "Temperature θ [K]", "values": [0, 100, 200, 300, 400, 500, 600]}},
            "y": {"field": "v", "type": "quantitative", "scale": {"domain": [0, 6.5], "nice": false}, "axis": {"title": "Rel. Permittivity κ₃₃(θ)/κ₃₃(300K)", "values": [0, 1, 2, 3, 4, 5, 6], "labelExpr": "'' + datum.value"}},
            "color": {"field": "s", "type": "nominal", "scale": {"domain": ["κ₃₃ Phase-field model", "κ₃₃ Measurement PZT-5A (Hooker)", "κ₃₃ Measurement PZT-500 (Zhang)", "κ₃₃ Measurement PZT-52/48 (Zhang)"], "range": ["#4365b2", "#4365b2", "#4365b2", "#4365b2"]}, "legend": {"title": null}}
          }
        },
        {
          "data": {"name": "rightPts"},
          "mark": {"type": "point", "filled": false, "clip": true},
          "encoding": {
            "x": {"field": "T", "type": "quantitative"},
            "y": {"field": "v", "type": "quantitative"},
            "color": {"field": "s", "type": "nominal", "legend": {"title": null}},
            "shape": {"field": "s", "type": "nominal", "scale": {"domain": ["κ₃₃ Phase-field model", "κ₃₃ Measurement PZT-5A (Hooker)", "κ₃₃ Measurement PZT-500 (Zhang)", "κ₃₃ Measurement PZT-52/48 (Zhang)"], "range": ["M-3,0L3,0", "circle", "M0,-1L0.7,0L0,1L-0.7,0Z", "M-1,0L1,0M0,-1L0,1M-0.7,-0.7L0.7,0.7M-0.7,0.7L0.7,-0.7"]}, "legend": {"title": null}},
            "size": {"field": "s", "type": "nominal", "scale": {"type": "ordinal", "domain": ["κ₃₃ Phase-field model", "κ₃₃ Measurement PZT-5A (Hooker)", "κ₃₃ Measurement PZT-500 (Zhang)", "κ₃₃ Measurement PZT-52/48 (Zhang)"], "range": [374, 144, 256, 169]}, "legend": {"title": null}},
            "strokeWidth": {"field": "s", "type": "nominal", "scale": {"type": "ordinal", "domain": ["κ₃₃ Phase-field model", "κ₃₃ Measurement PZT-5A (Hooker)", "κ₃₃ Measurement PZT-500 (Zhang)", "κ₃₃ Measurement PZT-52/48 (Zhang)"], "range": [3.5, 1.8, 1.8, 1.8]}, "legend": {"title": null}}
          }
        }
      ]
    }
  ]
}
